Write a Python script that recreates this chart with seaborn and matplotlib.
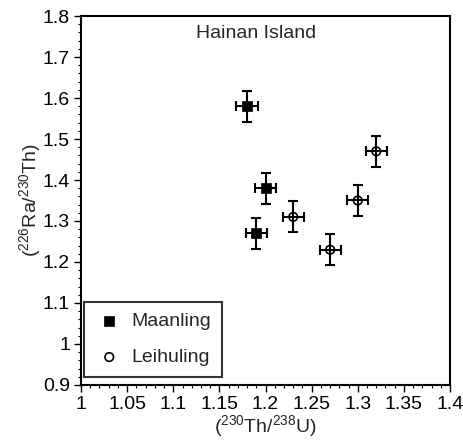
import matplotlib
matplotlib.use('Agg')
import matplotlib.pyplot as plt
import seaborn as sns
import pandas as pd
from matplotlib.ticker import MultipleLocator

# data
maanling_th_u = [1.18, 1.20, 1.19]
maanling_ra_th = [1.58, 1.38, 1.27]
leihuling_th_u = [1.23, 1.27, 1.30, 1.32]
leihuling_ra_th = [1.31, 1.23, 1.35, 1.47]
x_err = 0.0115
y_err = 0.038

x_ticks = [1, 1.05, 1.1, 1.15, 1.2, 1.25, 1.3, 1.35, 1.4]
x_ticklabels = ['1', '1.05', '1.1', '1.15', '1.2', '1.25', '1.3', '1.35', '1.4']
y_ticks = [0.9, 1, 1.1, 1.2, 1.3, 1.4, 1.5, 1.6, 1.7, 1.8]
y_ticklabels = ['0.9', '1', '1.1', '1.2', '1.3', '1.4', '1.5', '1.6', '1.7', '1.8']

df_m = pd.DataFrame({'x': maanling_th_u, 'y': maanling_ra_th})
df_l = pd.DataFrame({'x': leihuling_th_u, 'y': leihuling_ra_th})

sns.set_style('ticks')
plt.rcParams['font.family'] = ['Liberation Sans', 'DejaVu Sans']
plt.rcParams['mathtext.fontset'] = 'custom'
plt.rcParams['mathtext.rm'] = 'Liberation Sans'
plt.rcParams['mathtext.it'] = 'Liberation Sans'
plt.rcParams['mathtext.default'] = 'regular'

fig = plt.figure(figsize=(4.64, 4.46), dpi=100)
ax = fig.add_axes([0.1746, 0.1368, 0.7954, 0.8273])

# error bars
ax.errorbar(df_m['x'], df_m['y'], xerr=x_err, yerr=y_err, fmt='none',
            ecolor='black', elinewidth=1.5, capsize=3.6, capthick=1.5, zorder=2)
ax.errorbar(df_l['x'], df_l['y'], xerr=x_err, yerr=y_err, fmt='none',
            ecolor='black', elinewidth=1.5, capsize=3.6, capthick=1.5, zorder=2)

sns.scatterplot(data=df_m, x='x', y='y', marker='s', s=62, color='black',
                edgecolor='black', linewidth=0.5, label='Maanling', ax=ax, zorder=3)
sns.scatterplot(data=df_l, x='x', y='y', marker='o', s=38, facecolor='none',
                edgecolor='black', linewidth=1.2, label='Leihuling', ax=ax, zorder=3)

ax.set_xlim(1, 1.4)
ax.set_ylim(0.9, 1.8)
ax.set_xticks(x_ticks)
ax.set_xticklabels(x_ticklabels)
ax.set_yticks(y_ticks)
ax.set_yticklabels(y_ticklabels)
ax.xaxis.set_minor_locator(MultipleLocator(0.01))
ax.yaxis.set_minor_locator(MultipleLocator(0.02))
ax.tick_params(which='major', direction='out', length=5, width=1, labelsize=14, colors='black', pad=3)
ax.tick_params(which='minor', direction='out', length=2.5, width=0.8, colors='black')
for sp in ax.spines.values():
    sp.set_linewidth(1.5)
    sp.set_color('black')

ax.set_xlabel(r'($^{230}$Th/$^{238}$U)', fontsize=14, labelpad=0)
ax.set_ylabel(r'($^{226}$Ra/$^{230}$Th)', fontsize=14, labelpad=0)
ax.text(1.19, 1.758, 'Hainan Island', ha='center', va='center', fontsize=14)

leg = ax.legend(loc='lower left', bbox_to_anchor=(0.008, 0.022), borderaxespad=0,
                frameon=True, fancybox=False, fontsize=14, edgecolor='black',
                handletextpad=0.4, borderpad=0.55, labelspacing=0.95, handlelength=1.5)
leg.get_frame().set_linewidth(1.5)

fig.savefig('out.png', dpi=100)
